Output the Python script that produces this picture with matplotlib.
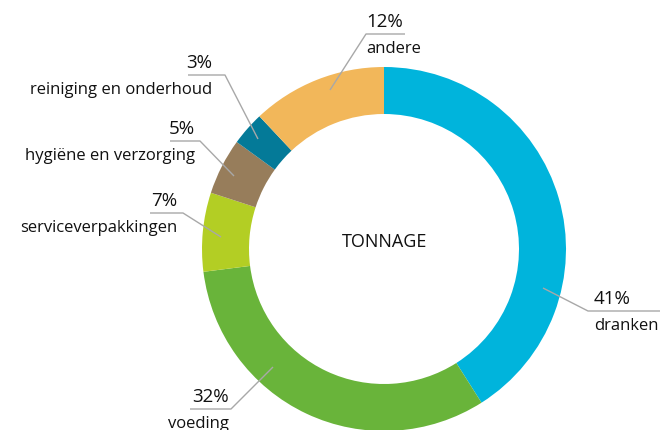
import numpy as np
import matplotlib.pyplot as plt

# data
labels = ['dranken', 'voeding', 'serviceverpakkingen', 'hygiëne en verzorging',
          'reiniging en onderhoud', 'andere']
values = [41, 32, 7, 5, 3, 12]
colors = ['#00B4DC', '#69B43A', '#B3CE24', '#977D5B', '#047A98', '#F2B75A']
center_title = 'TONNAGE'

# leader layout in pixels: anchor on ring, elbow, end of horizontal, text x, side
leaders = [
    ((543, 289), (588, 312), 660, 594, 'left'),
    ((273, 368), (231, 410), 190, 229, 'right'),
    ((221, 238), (183, 214), 150, 177, 'right'),
    ((234, 177), (200, 142), 170, 195, 'right'),
    ((258, 140), (225, 76), 188, 212, 'right'),
    ((330, 91), (366, 35), 405, 366, 'left'),
]

W, H = 660, 431
fig = plt.figure(figsize=(6.6, 4.31), dpi=100)
ax = fig.add_axes([0, 0, 1, 1])
plt.rcParams['font.family'] = 'Open Sans'

cx, cy = 384, H - 250
ax.pie(values, colors=colors, startangle=90, counterclock=False,
       center=(cx, cy), radius=182,
       wedgeprops=dict(width=47, linewidth=0))
ax.set_xlim(0, W)
ax.set_ylim(0, H)
ax.set_aspect('equal')
ax.axis('off')

ax.text(cx + 1, H - 242, center_title, ha='center', va='center', fontsize=13, color='#111111')

for lab, val, (a, e, xend, tx, ha) in zip(labels, values, leaders):
    ax.plot([a[0], e[0], xend], [H - a[1], H - e[1], H - e[1]],
            color='#A8A8A8', lw=1, solid_capstyle='butt')
    ax.text(tx, H - e[1] + 13, f'{val}%', ha=ha, va='center', fontsize=13.5, color='#111111')
    ax.text(tx, H - e[1] - 14, lab, ha=ha, va='center', fontsize=12, color='#111111')

fig.savefig('out.png', dpi=100)
